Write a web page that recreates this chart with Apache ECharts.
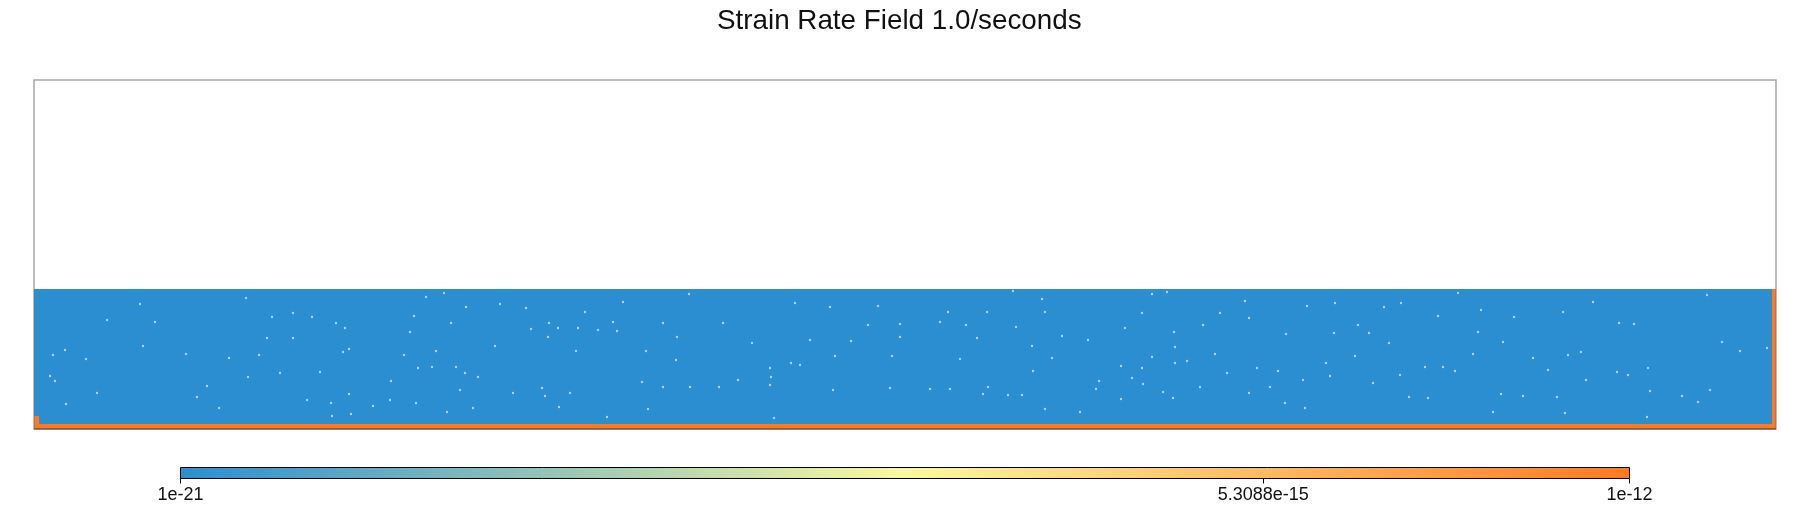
<!DOCTYPE html>
<html><head><meta charset="utf-8">
<style>html,body{margin:0;padding:0;background:#fff}#c{width:1810px;height:510px}</style>
<script src="https://cdn.jsdelivr.net/npm/echarts@6/dist/echarts.min.js"></script>
</head><body><div id="c"></div>
<script>
const titleText = 'Strain Rate Field 1.0/seconds';
const domainX = [0, 1742];
const domainY = [0, 349];
// field zones: xStart, xEnd, yStart, yEnd, strain rate
const zoneBody  = [0, 1742, 0, 140, 1e-21];
const zoneBase  = [0, 1742, 0, 5, 1e-12];
const zoneLeft  = [0, 5, 0, 13, 1e-12];
const zoneRight = [1738, 1742, 0, 140, 1e-12];
const colorStops = ['#2b8ed1', '#fbfa9e', '#ff7a1f'];
const scaleMin = 1e-21;
const scaleMax = 1e-12;
const tickValues = [1e-21, 5.3088e-15, 1e-12];
const tickLabels = ['1e-21', '5.3088e-15', '1e-12'];
// lighter specks
const specks = [
[311,101],[376,97],[432,122],[492,121],[515,106],[542,78],[398,62],[422,62],[384,61],[357,48],[315,35],[511,33],[525,22],[297,26],[339,23],[298,13],[317,15],[413,17],[356,29],[278,112],[302,106],[380,113],[417,106],[392,132],[410,136],[466,125],[497,100],[514,92],[461,83],[315,80],[309,77],[370,74],[402,78],[431,56],[444,52],[479,36],[426,39],[536,36],[508,41],[286,57],[273,29],[382,26],[439,21],[544,101],[524,101],[551,117],[564,99],
[1140,97],[1091,101],[1028,93],[998,83],[1018,71],[999,58],[1087,63],[1108,61],[1141,66],[1153,68],[1118,72],[1065,48],[1098,51],[1109,45],[1087,30],[1062,40],[1215,36],[1252,95],[1236,42],[1211,128],[1215,111],[1186,116],[1108,116],[1054,89],[982,102],[1011,117],[1008,130],[979,138],[1118,135],[1133,137],[1169,104],[1141,82],[1181,75],[1223,61],[1244,58],[1193,56],[1166,42],[1129,37],[1011,20],[1046,17],[974,34],[988,34],[1139,31],[1251,26],
[21,48],[16,53],[52,70],[19,74],[32,25],[63,36],[163,32],[185,21],[212,131],[106,125],[259,91],[121,107],[152,75],[195,71],[173,43],[225,74],[214,52],[109,83],[73,109],[31,79],[246,56],[233,91],[238,112],[259,116],
[1600,105],[1585,106],[1559,127],[1673,134],[1499,71],[1547,77],[1583,57],[1614,61],[1552,49],[1616,38],[1648,33],[1664,27],[1613,12],[1706,78],[1688,87],[1733,81],[1514,59],[1676,39],[1489,33],[1523,32],[1531,16],[1594,54],[1534,74],[1480,112],[1529,117],
[643,92],[612,78],[642,69],[932,104],[906,107],[834,104],[817,88],[736,44],[685,42],[656,42],[949,35],[954,42],[916,40],[896,40],[801,73],[858,73],[737,52],[614,20],[573,12],[740,11],[736,61],[757,66],[844,123],[796,122],[761,126],[655,135],[589,127],[579,107],[583,98],[629,106],[689,106],[953,117],[926,70],[914,117],[866,105],[943,91],[866,92],[776,89],[718,86],[608,47],[629,42],[704,49],[856,41],[766,64],[799,39],
[1350,122],[1367,126],[1404,113],[1444,97],[1447,119],[1300,96],[1335,96],[1355,86],[1321,73],[1292,66],[1296,53],[1269,49],[1366,54],[1339,46],[1421,58],[1391,62],[1271,21],[1459,17],[1467,35],[1394,31],[1375,32],[1301,126],[1273,123],[1424,136],[1469,87],[1439,75],[1409,62],[1324,104]
];

const zones = [zoneBody, zoneBase, zoneLeft, zoneRight].map(z => [z[0], z[1], z[2], z[3], Math.log10(z[4])]);
const chart = echarts.init(document.getElementById('c'), null, {renderer:'canvas'});
function rectBetween(api, a, b, c, d){
  const p0 = api.coord([a, c]), p1 = api.coord([b, d]);
  return {x:p0[0], y:p1[1], width:p1[0]-p0[0], height:p0[1]-p1[1]};
}
chart.setOption({
  animation:false,
  backgroundColor:'#fff',
  title:{text:titleText,left:712,top:2,textStyle:{fontFamily:'Liberation Sans',fontSize:27.8,fontWeight:'normal',color:'#111'}},
  grid:[
    {left:34,right:34,top:80,height:349,show:false},
    {left:180.5,right:180.5,top:467.5,height:11,show:false}
  ],
  xAxis:[
    {gridIndex:0,type:'value',min:domainX[0],max:domainX[1],show:false},
    {gridIndex:1,type:'log',min:scaleMin,max:scaleMax,logBase:10,
      axisLine:{show:false},splitLine:{show:false},minorTick:{show:false},
      axisTick:{show:true,length:5,lineStyle:{color:'#000',width:1},customValues:tickValues},
      axisLabel:{show:true,margin:8,fontFamily:'Liberation Sans',fontSize:18,color:'#111',customValues:tickValues,
        hideOverlap:false,showMinLabel:true,showMaxLabel:true,alignMinLabel:'center',alignMaxLabel:'center',
        formatter:v=>{let best=0;tickValues.forEach((t,i)=>{if(Math.abs(Math.log10(t)-Math.log10(v))<Math.abs(Math.log10(tickValues[best])-Math.log10(v)))best=i;});return tickLabels[best];}}}
  ],
  yAxis:[
    {gridIndex:0,type:'value',min:domainY[0],max:domainY[1],show:false},
    {gridIndex:1,type:'value',min:0,max:1,show:false}
  ],
  visualMap:{show:false,type:'continuous',min:Math.log10(scaleMin),max:Math.log10(scaleMax),dimension:4,seriesIndex:0,inRange:{color:colorStops}},
  series:[
    {type:'custom',xAxisIndex:0,yAxisIndex:0,data:zones,encode:{x:[0,1],y:[2,3]},clip:true,silent:true,z:2,
      renderItem:(p,api)=>({type:'rect',shape:rectBetween(api,api.value(0),api.value(1),api.value(2),api.value(3)),style:{fill:api.visual('color')}})},
    {type:'scatter',xAxisIndex:0,yAxisIndex:0,data:specks,symbol:'circle',symbolSize:2.4,silent:true,z:3,itemStyle:{color:'#cfe5f5',opacity:.8}},
    {type:'custom',xAxisIndex:0,yAxisIndex:0,data:[[domainX[0],domainX[1],domainY[0],domainY[1]]],encode:{x:[0,1],y:[2,3]},silent:true,z:4,clip:false,
      renderItem:(p,api)=>{
        const r=rectBetween(api,api.value(0),api.value(1),api.value(2),api.value(3));
        return {type:'group',children:[
          {type:'rect',shape:r,style:{fill:null,stroke:'rgba(110,110,110,.6)',lineWidth:1.5}},
          {type:'line',shape:{x1:r.x,y1:r.y+r.height,x2:r.x+r.width,y2:r.y+r.height},style:{stroke:'rgba(80,50,30,.55)',lineWidth:1.5}}
        ]};
      }},
    {type:'custom',xAxisIndex:1,yAxisIndex:1,data:[[scaleMin,scaleMax,0,1]],encode:{x:[0,1],y:[2,3]},silent:true,z:2,clip:false,
      renderItem:(p,api)=>({type:'rect',shape:rectBetween(api,api.value(0),api.value(1),api.value(2),api.value(3)),
        style:{stroke:'#000',lineWidth:1,fill:new echarts.graphic.LinearGradient(0,0,1,0,colorStops.map((c,i)=>({offset:i/(colorStops.length-1),color:c})))}})}
  ]
});
</script></body></html>
